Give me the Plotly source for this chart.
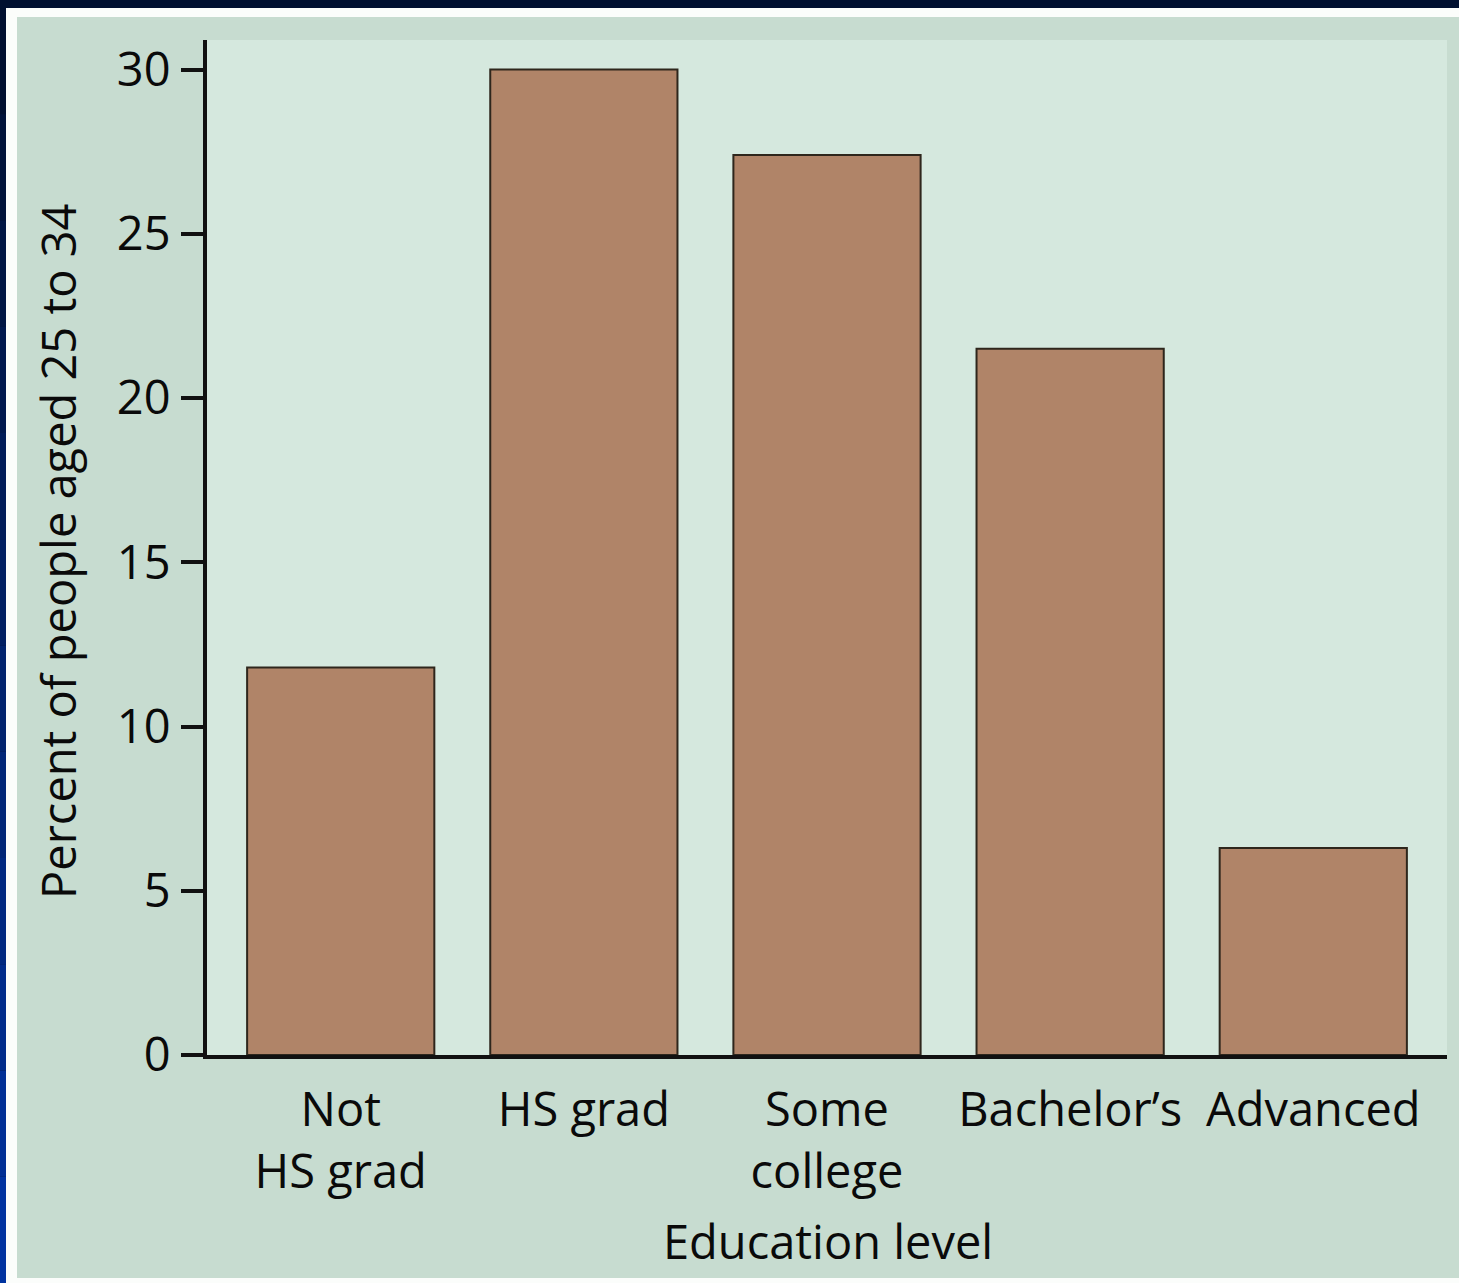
import plotly.graph_objects as go

# Share of people aged 25 to 34 by highest education level
categories = ["Not<br>HS grad", "HS grad", "Some<br>college", "Bachelor\u2019s", "Advanced"]
percent = [11.8, 30.0, 27.4, 21.5, 6.3]
y_ticks = [0, 5, 10, 15, 20, 25, 30]

W, H = 1459, 1283
L, R, T, B = 207, 12, 40, 228
pw, ph = W - L - R, H - T - B

FONT = "Open Sans"
TEXT = "#0a0a0a"
NAVY = "#001030"
PANEL = "#c7dcd0"
PLOT_BG = "#d5e8de"
BAR = "#b08468"
EDGE = "#2e261c"


def px_x(px):
    return (px - L) / pw


def px_y(py):
    return (H - B - py) / ph


fig = go.Figure(
    go.Bar(
        x=list(range(len(categories))),
        y=percent,
        width=0.77,
        marker=dict(color=BAR, line=dict(color=EDGE, width=2)),
        hoverinfo="skip",
    )
)

shapes = []
# left edge strip shading from dark navy to blue
steps = 12
for i in range(steps):
    t = i / (steps - 1)
    g = int(0x10 + (0x33 - 0x10) * t)
    b = int(0x30 + (0xA0 - 0x30) * t)
    shapes.append(dict(
        type="rect", xref="paper", yref="paper", layer="below",
        x0=px_x(0), x1=px_x(6),
        y0=px_y(8 + (H - 8) * (i + 1) / steps), y1=px_y(8 + (H - 8) * i / steps),
        line=dict(width=0), fillcolor=f"rgb(0,{g},{b})",
    ))
# white frame and panel
shapes.append(dict(type="rect", xref="paper", yref="paper", layer="below",
                   x0=px_x(6), x1=px_x(W), y0=px_y(H), y1=px_y(8),
                   line=dict(width=0), fillcolor="#fbfdfb"))
shapes.append(dict(type="rect", xref="paper", yref="paper", layer="below",
                   x0=px_x(17), x1=px_x(W), y0=px_y(1278), y1=px_y(17),
                   line=dict(width=0), fillcolor=PANEL))
shapes.append(dict(type="rect", xref="paper", yref="paper", layer="below",
                   x0=0, x1=1, y0=0, y1=1,
                   line=dict(width=0), fillcolor=PLOT_BG))

label_font = dict(family=FONT, size=47, color=TEXT, weight=500)

annotations = [
    dict(text="Percent of people aged 25 to 34", xref="paper", yref="paper",
         x=px_x(58), y=px_y(552), textangle=-90, showarrow=False,
         xanchor="center", yanchor="middle", font=label_font),
    dict(text="Education level", xref="paper", yref="paper",
         x=px_x(828), y=px_y(1241), showarrow=False,
         xanchor="center", yanchor="middle", font=label_font),
]

fig.update_layout(
    width=W, height=H,
    margin=dict(l=L, r=R, t=T, b=B, pad=0),
    paper_bgcolor=NAVY,
    plot_bgcolor="rgba(0,0,0,0)",
    showlegend=False,
    shapes=shapes,
    annotations=annotations,
    font=label_font,
)

fig.update_xaxes(
    range=[-0.55, 4.55],
    tickmode="array",
    tickvals=list(range(len(categories))),
    ticktext=categories,
    ticks="",
    showline=True, linecolor="#111111", linewidth=4,
    showgrid=False, zeroline=False,
    tickfont=label_font,
    ticklabelstandoff=11,
    fixedrange=True,
)

fig.update_yaxes(
    range=[0, 30.9],
    tickmode="array",
    tickvals=y_ticks,
    ticktext=[str(v) for v in y_ticks],
    ticks="outside", ticklen=22, tickwidth=3.5, tickcolor="#111111",
    showline=True, linecolor="#111111", linewidth=4,
    showgrid=False, zeroline=False,
    tickfont=label_font,
    ticklabelstandoff=1,
    fixedrange=True,
)

fig.write_html("out.html", config={"displayModeBar": False})
